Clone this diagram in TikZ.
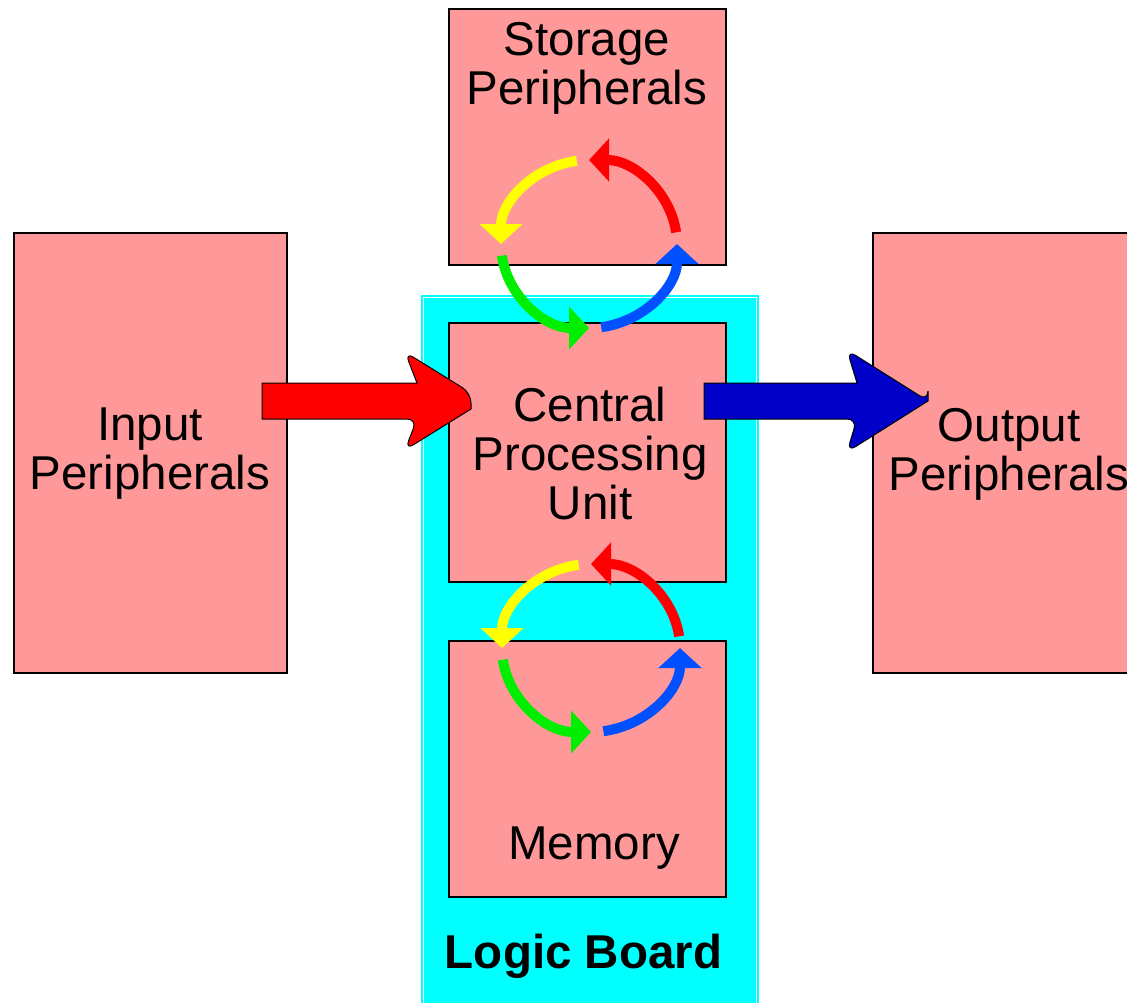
\documentclass[tikz,border=0pt]{standalone}
\usepackage{fontspec}
\setmainfont{Liberation Sans}
\usetikzlibrary{arrows.meta}
\definecolor{cpink}{HTML}{FF9999}
\definecolor{ccyan}{HTML}{00FFFF}
\definecolor{cred}{HTML}{FF0000}
\definecolor{cnavy}{HTML}{0000C8}
\definecolor{cyell}{HTML}{FFFF00}
\definecolor{cgreen}{HTML}{00EE00}
\definecolor{cblue}{HTML}{0050FF}

\begin{document}
\begin{tikzpicture}[x=1pt, y=-1pt,
  unit/.style={draw=black, line width=2pt, fill=cpink, inner sep=0pt},
  lbl/.style={align=center, inner sep=0pt, font=\fontsize{47.5}{49}\selectfont},
  loop/.style={line width=10pt, -{Triangle[width=42pt, length=20pt]}}]
\useasboundingbox (0,0) rectangle (1127,1002);
\clip (0,0) rectangle (1127,1002);
%% ------------------------------------------------------------------ board
\fill[ccyan] (421,295) rectangle (759,1012);
\draw[white, line width=1.2pt] (423.5,297.5) rectangle (756.5,1015);
\node[lbl, font=\fontsize{47.5}{49}\selectfont\bfseries] (board) at (583.5,956) {Logic Board};
%% ------------------------------------------------------------------ units
\node[unit, minimum width=277pt, minimum height=256pt] (stor) at (587.5,137) {};
\node[unit, minimum width=273pt, minimum height=440pt] (inp) at (150.5,453) {};
\node[unit, minimum width=267pt, minimum height=440pt] (outp) at (1006.5,453) {};
\node[unit, minimum width=277pt, minimum height=259pt] (cpu) at (587.5,452.5) {};
\node[unit, minimum width=277pt, minimum height=256pt] (mem) at (587.5,769) {};
\node[lbl] (storlbl) at (587,68) {Storage\\Peripherals};
\node[lbl] (inplbl) at (150,454) {Input\\Peripherals};
\node[lbl] (outlbl) at (1009,454) {Output\\Peripherals};
\node[lbl] (cpulbl) at (590,454) {Central\\Processing\\Unit};
\node[lbl] (memlbl) at (594,848) {Memory};
%% ------------------------------------------------------------------ cycles
% screen angles are negated, since y runs downwards
\foreach \c/\rx in {{(589,244)}/88, {(591,648)}/89} {
  \draw[loop, cyell] \c ++({\rx*cos(-98)},{84*sin(-98)}) arc[start angle=-98, end angle=-180, x radius=\rx, y radius=84];
  \draw[loop, cgreen] \c ++({\rx*cos(-188)},{84*sin(-188)}) arc[start angle=-188, end angle=-270, x radius=\rx, y radius=84];
  \draw[loop, cblue] \c ++({\rx*cos(-278)},{84*sin(-278)}) arc[start angle=-278, end angle=-360, x radius=\rx, y radius=84];
  \draw[loop, cred] \c ++({\rx*cos(-8)},{84*sin(-8)}) arc[start angle=-8, end angle=-90, x radius=\rx, y radius=84];
}
%% ------------------------------------------------------------------ flows
% input -> cpu
\draw[fill=cred, draw=black, line width=1pt] (262,383) -- (417,383) [rounded corners=10pt] -- (405,352) -- (471,393) [sharp corners] -- (471,409) [rounded corners=10pt] -- (405,450) -- (417,419) [sharp corners] -- (262,419) -- cycle;
% cpu -> output
\draw[fill=cnavy, draw=black, line width=1pt] (704,383) -- (857,383) [rounded corners=10pt] -- (847,350) -- (928,401) [sharp corners] -- (928,401) [rounded corners=10pt] -- (847,452) -- (857,419) [sharp corners] -- (704,419) -- cycle;
\end{tikzpicture}
\end{document}
